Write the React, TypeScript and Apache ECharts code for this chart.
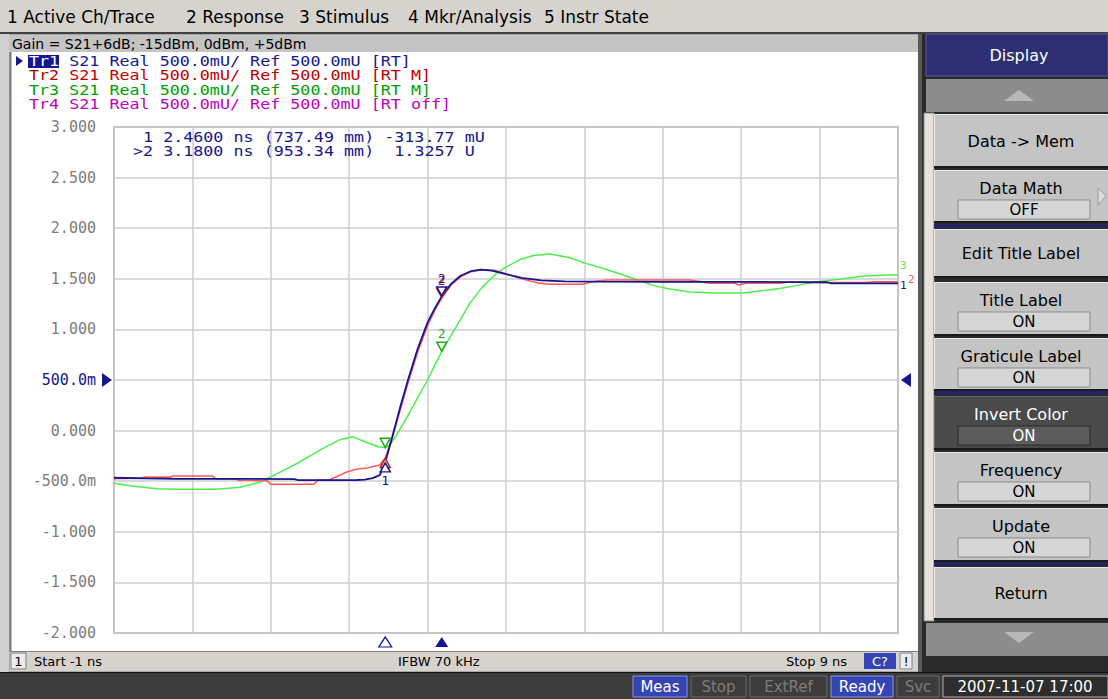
import React, { useEffect, useRef } from "react";
import * as echarts from "echarts";

// ---------- data ----------
const menuItems = ["1 Active Ch/Trace", "2 Response", "3 Stimulus", "4 Mkr/Analysis", "5 Instr State"];
const channelTitle = "Gain = S21+6dB; -15dBm, 0dBm, +5dBm";
const traceHeaders = [
  "Tr1 S21 Real 500.0mU/ Ref 500.0mU [RT]",
  "Tr2 S21 Real 500.0mU/ Ref 500.0mU [RT M]",
  "Tr3 S21 Real 500.0mU/ Ref 500.0mU [RT M]",
  "Tr4 S21 Real 500.0mU/ Ref 500.0mU [RT off]",
];
const markerReadout = [" 1 2.4600 ns (737.49 mm) -313.77 mU", ">2 3.1800 ns (953.34 mm)  1.3257 U"];
const yTickValues = [3, 2.5, 2, 1.5, 1, 0.5, 0, -0.5, -1, -1.5, -2];
const yTickLabels = ["3.000", "2.500", "2.000", "1.500", "1.000", "500.0m", "0.000", "-500.0m", "-1.000", "-1.500", "-2.000"];
const startNs = -1;
const stopNs = 9;
const refLevel = 0.5;
const markerTimes = [2.46, 3.18];

// Tr1 (blue) S21 real, [ns, U]
const tr1Points = [
  [-1.0, -0.466], [-0.6, -0.472], [-0.2, -0.477], [0.3, -0.478], [0.8, -0.478], [1.3, -0.48],
  [1.35, -0.49], [1.8, -0.49], [2.1, -0.488], [2.2, -0.485], [2.3, -0.47], [2.39, -0.44],
  [2.46, -0.31377], [2.55, -0.06], [2.65, 0.23], [2.75, 0.5], [2.87, 0.8], [3.0, 1.07],
  [3.1, 1.22], [3.18, 1.3257], [3.3, 1.45], [3.42, 1.53], [3.55, 1.575], [3.68, 1.59],
  [3.82, 1.58], [4.0, 1.545], [4.2, 1.51], [4.45, 1.485], [4.75, 1.475], [5.2, 1.472],
  [6.0, 1.47], [6.8, 1.47], [7.6, 1.468], [8.1, 1.466], [8.15, 1.455], [9.0, 1.455],
];
// Tr2 (red)
const tr2Points = [
  [-1.0, -0.475], [-0.67, -0.47], [-0.6, -0.46], [-0.28, -0.46], [-0.25, -0.448], [0.25, -0.448],
  [0.3, -0.475], [0.55, -0.48], [0.6, -0.49], [0.95, -0.495], [1.0, -0.53], [1.55, -0.53],
  [1.6, -0.49], [1.75, -0.485], [1.97, -0.41], [2.1, -0.38], [2.23, -0.37], [2.39, -0.34],
  [2.46, -0.27], [2.55, -0.07], [2.65, 0.2], [2.75, 0.47], [2.87, 0.77], [3.0, 1.04],
  [3.1, 1.2], [3.18, 1.31], [3.3, 1.44], [3.42, 1.52], [3.55, 1.57], [3.7, 1.59],
  [3.85, 1.585], [4.0, 1.55], [4.2, 1.5], [4.4, 1.46], [4.56, 1.446], [4.98, 1.446],
  [5.1, 1.47], [5.29, 1.488], [6.35, 1.488], [6.5, 1.47], [6.58, 1.456], [6.92, 1.456],
  [6.97, 1.44], [7.05, 1.456], [7.49, 1.456], [7.6, 1.468], [8.1, 1.462], [8.6, 1.462],
  [8.7, 1.47], [9.0, 1.47],
];
// Tr3 (green)
const tr3Points = [
  [-1.0, -0.52], [-0.75, -0.55], [-0.45, -0.575], [-0.2, -0.58], [0.3, -0.58], [0.61, -0.56],
  [0.86, -0.51], [1.12, -0.41], [1.37, -0.31], [1.63, -0.19], [1.88, -0.09], [2.04, -0.06],
  [2.2, -0.11], [2.37, -0.16], [2.46, -0.17], [2.52, -0.14], [2.6, -0.05], [2.74, 0.135],
  [2.87, 0.32], [3.0, 0.5], [3.1, 0.66], [3.18, 0.78], [3.3, 0.94], [3.42, 1.1],
  [3.54, 1.26], [3.7, 1.42], [3.89, 1.56], [4.01, 1.62], [4.18, 1.69], [4.35, 1.73],
  [4.56, 1.745], [4.8, 1.71], [5.03, 1.65], [5.25, 1.6], [5.45, 1.55], [5.67, 1.49],
  [5.9, 1.43], [6.09, 1.4], [6.35, 1.37], [6.64, 1.36], [7.02, 1.36], [7.3, 1.385],
  [7.53, 1.41], [7.75, 1.44], [7.97, 1.47], [8.3, 1.5], [8.6, 1.53], [9.0, 1.54],
];
const tr1Markers = [-0.31377, 1.3257];
const tr2Markers = [-0.27, 1.31];
const tr3Markers = [-0.17, 0.78];

const softkeys = [
  { label: "Data -> Mem", state: "" },
  { label: "Data Math", state: "OFF" },
  { label: "Edit Title Label", state: "" },
  { label: "Title Label", state: "ON" },
  { label: "Graticule Label", state: "ON" },
  { label: "Invert Color", state: "ON" },
  { label: "Frequency", state: "ON" },
  { label: "Update", state: "ON" },
  { label: "Return", state: "" },
];
const statusLeft = "Start -1 ns";
const statusMid = "IFBW 70 kHz";
const statusRight = "Stop 9 ns";
const bottomItems = ["Meas", "Stop", "ExtRef", "Ready", "Svc"];
const dateText = "2007-11-07 17:00";

// ---------- styles ----------
const NAVY = "#16168f";
const RED = "#ff5a5a";
const GREEN = "#4cef4c";
const SANS = '"DejaVu Sans", Verdana, sans-serif';
const MONO = '"DejaVu Sans Mono", monospace';
const CW = 10.05;
const SX = CW / (0.602 * 14);

const TRI_DOWN = "path://M0,0L10,0L5,10Z";
const TRI_UP = "path://M5,0L10,10L0,10Z";
const TRI_RIGHT = "path://M0,0L10,5L0,10Z";
const TRI_LEFT = "path://M10,0L0,5L10,10Z";

function buildGraphics() {
  const els: any[] = [];
  const rect = (x: number, y: number, w: number, h: number, fill: string, stroke?: string, lw = 1, z = -20) =>
    els.push({ type: "rect", z, silent: true, shape: { x, y, width: w, height: h }, style: { fill, stroke: stroke || null, lineWidth: lw } });
  const line = (x1: number, y1: number, x2: number, y2: number, stroke: string, lw = 1, z = -15) =>
    els.push({ type: "line", z, silent: true, shape: { x1, y1, x2, y2 }, style: { stroke, lineWidth: lw } });
  const poly = (pts: number[][], fill: string, stroke?: string, z = -10) =>
    els.push({ type: "polygon", z, silent: true, shape: { points: pts }, style: { fill, stroke: stroke || null, lineWidth: 1 } });
  const text = (x: number, y: number, str: string, fill: string, size: number, align = "left", family = SANS) =>
    els.push({
      type: "text", z: 30, silent: true, x, y,
      style: { text: str, fill, fontSize: size, fontFamily: family, textAlign: align, align, textVerticalAlign: "middle", verticalAlign: "middle" },
    });
  const mono = (x: number, y: number, str: string, fill: string) => {
    const re = /\S+/g;
    let m: RegExpExecArray | null;
    while ((m = re.exec(str))) {
      els.push({
        type: "text", z: 30, silent: true, x: x + m.index * CW, y, scaleX: SX,
        style: { text: m[0], fill, fontSize: 14, fontFamily: MONO, textAlign: "left", align: "left", textVerticalAlign: "middle", verticalAlign: "middle" },
      });
    }
  };

  // menu bar
  rect(0, 0, 1108, 32, "#d6d3ce");
  const menuX = [7, 186, 299, 408, 544];
  menuItems.forEach((s, i) => text(menuX[i], 17, s, "#000", 17));
  rect(0, 32, 1108, 2, "#404040");

  // channel window
  rect(0, 34, 924, 638, "#a8a8a8");
  rect(0, 34, 9, 638, "#d0d0d0");
  rect(9, 35, 911, 17, "#c4c4c4");
  text(12, 44, channelTitle, "#000", 14);
  rect(11, 52, 907, 599, "#ffffff");
  line(10.5, 52, 10.5, 651, "#7a7a7a", 2);
  rect(918, 34, 6, 638, "#5a5a5a");

  // trace headers
  poly([[16, 56], [23, 61], [16, 66]], NAVY, undefined, 20);
  const hdrColors = [NAVY, "#c00000", "#00a000", "#c000c0"];
  traceHeaders.forEach((s, i) => mono(29, 61 + i * 14.5, s, hdrColors[i]));
  rect(28, 55, 31, 13, NAVY, undefined, 1, 25);
  els.push({
    type: "text", z: 31, silent: true, x: 29, y: 61, scaleX: SX,
    style: { text: "Tr1", fill: "#fff", fontSize: 14, fontFamily: MONO, textAlign: "left", align: "left", textVerticalAlign: "middle", verticalAlign: "middle" },
  });

  // marker readout
  markerReadout.forEach((s, i) => mono(133, 137 + i * 14, s, NAVY));

  // channel status bar
  rect(10, 651, 908, 20, "#d6d3ce");
  line(10, 651.5, 918, 651.5, "#808080", 1);
  rect(11, 653, 15, 16, "#ececec", "#808080");
  text(18.5, 661, "1", "#000", 13, "center");
  text(34, 661, statusLeft, "#000", 13);
  text(398, 661, statusMid, "#000", 13);
  text(786, 661, statusRight, "#000", 13);
  rect(864, 653, 32, 16, "#3545b5");
  text(880, 661, "C?", "#fff", 13, "center");
  rect(900, 653, 12, 16, "#ececec", "#808080");
  text(906, 661, "!", "#000", 13, "center");

  // bottom bar
  rect(0, 672, 1108, 27, "#3c3c3c");
  line(0, 672.5, 1108, 672.5, "#111", 1);
  const bx = [633, 691, 750, 831, 897];
  const bw = [54, 55, 77, 62, 42];
  bottomItems.forEach((s, i) => {
    const active = s === "Meas" || s === "Ready";
    rect(bx[i], 676, bw[i], 21, active ? "#3444b4" : "#3c3c3c", active ? "#8898e0" : "#6a6a6a");
    text(bx[i] + bw[i] / 2, 687, s, active ? "#fff" : "#7c7c7c", 15, "center");
  });
  rect(943, 676, 165, 21, "#2e2e2e", "#b0b0b0");
  text(1025, 687, dateText, "#fff", 15, "center");

  // softkey panel
  rect(922, 34, 186, 638, "#2a2a2a");
  rect(926, 34, 182, 42, "#2e2e72", "#5a5aa0");
  text(1019, 55, "Display", "#fff", 16, "center");
  rect(926, 79, 182, 33, "#8c8c8c");
  poly([[1004, 101], [1034, 101], [1019, 90]], "#b8b8b8");
  rect(924, 113, 10, 508, "#e6e2da", "#888");
  rect(926, 623, 182, 33, "#8c8c8c");
  poly([[1004, 632], [1034, 632], [1019, 643]], "#b8b8b8");

  const tops = [114, 170, 229, 282, 338, 396, 452, 508, 567];
  const hts = [54, 53, 49, 54, 53, 54, 54, 54, 53];
  softkeys.forEach((k, i) => {
    const y = tops[i];
    const h = hts[i];
    const dark = k.label === "Invert Color";
    rect(934, y, 174, h, dark ? "#4a4a4a" : "#c4c4c4");
    line(934, y + 0.5, 1108, y + 0.5, dark ? "#6a6a6a" : "#e8e8e8", 1, -14);
    line(934.5, y, 934.5, y + h, dark ? "#6a6a6a" : "#e8e8e8", 1, -14);
    line(934, y + h - 1, 1108, y + h - 1, "#1a1a1a", 2, -14);
    if (k.state) {
      text(1021, y + 18, k.label, dark ? "#fff" : "#000", 16, "center");
      rect(958, y + 30, 132, 19, dark ? "#5c5c5c" : "#d6d6d6", dark ? "#2a2a2a" : "#8a8a8a");
      text(1024, y + 40, k.state, dark ? "#fff" : "#000", 15, "center");
    } else {
      text(1021, y + h / 2, k.label, "#000", 16, "center");
    }
  });
  poly([[1098, 188], [1098, 205], [1106, 196]], "#dcdcdc", "#9a9a9a", -5);
  rect(934, 224, 174, 4, "#24245e", undefined, 1, -12);
  rect(934, 391, 174, 4, "#24245e", undefined, 1, -12);
  rect(934, 562, 174, 4, "#24245e", undefined, 1, -12);

  return els;
}

function markerItem(t: number, v: number, color: string, label: string, below: boolean, filled = false) {
  return {
    coord: [t, v],
    symbol: below ? TRI_UP : TRI_DOWN,
    symbolSize: [10, 9],
    symbolOffset: [0, below ? 5 : -5],
    itemStyle: { color: filled ? color : "#ffffff", borderColor: color, borderWidth: 1.5 },
    label: {
      show: label !== "",
      formatter: label,
      position: below ? "bottom" : "top",
      distance: 1,
      color,
      fontSize: 13,
      fontFamily: MONO,
    },
  };
}

function buildOption() {
  const lineSeries = (name: string, pts: number[][], color: string, width: number, end: string, endOffset: number[], marks: any[]) => ({
    name,
    type: "line",
    data: pts,
    showSymbol: false,
    symbol: "none",
    smooth: false,
    lineStyle: { color, width },
    itemStyle: { color },
    endLabel: { show: true, formatter: end, color, fontSize: 11, fontFamily: MONO, distance: 2, offset: endOffset },
    markPoint: { silent: true, data: marks },
    z: 3,
  });

  return {
    animation: false,
    backgroundColor: "#d6d3ce",
    graphic: { elements: buildGraphics() },
    grid: { left: 114, top: 127, width: 784, height: 506, show: true, borderColor: "#8a8a8a", borderWidth: 1.5, backgroundColor: "transparent" },
    xAxis: {
      type: "value", min: startNs, max: stopNs, interval: 1,
      axisLabel: { show: false }, axisTick: { show: false }, axisLine: { show: false },
      splitLine: { show: true, lineStyle: { color: "#cecece", width: 1.5 } },
    },
    yAxis: {
      type: "value", min: -2, max: 3, interval: 0.5,
      axisTick: { show: false }, axisLine: { show: false },
      splitLine: { show: true, lineStyle: { color: "#cecece", width: 1.5 } },
      axisLabel: {
        margin: 18, fontSize: 15, fontFamily: MONO,
        formatter: (v: any) => {
          const i = yTickValues.findIndex((t) => Math.abs(t - Number(v)) < 1e-9);
          return i >= 0 ? yTickLabels[i] : "";
        },
        color: (v: any) => (Math.abs(Number(v) - refLevel) < 1e-9 ? NAVY : "#7c7c7c"),
      },
    },
    series: [
      lineSeries("Tr3", tr3Points, GREEN, 1.5, "3", [0, -9], [
        markerItem(markerTimes[0], tr3Markers[0], "#22aa22", "", false),
        markerItem(markerTimes[1], tr3Markers[1], "#22aa22", "2", false),
      ]),
      lineSeries("Tr2", tr2Points, RED, 1.6, "2", [8, -2], [
        markerItem(markerTimes[0], tr2Markers[0], "#c02020", "", true),
        markerItem(markerTimes[1], tr2Markers[1], "#c02020", "2", false),
      ]),
      lineSeries("Tr1", tr1Points, NAVY, 1.8, "1", [0, 2], [
        markerItem(markerTimes[0], tr1Markers[0], NAVY, "1", true),
        markerItem(markerTimes[1], tr1Markers[1], NAVY, "2", false),
        {
          coord: [markerTimes[0], -2], symbol: TRI_UP, symbolSize: [13, 10], symbolOffset: [0, 9],
          itemStyle: { color: "#fff", borderColor: NAVY, borderWidth: 1.2 }, label: { show: false },
        },
        {
          coord: [markerTimes[1], -2], symbol: TRI_UP, symbolSize: [13, 10], symbolOffset: [0, 9],
          itemStyle: { color: NAVY }, label: { show: false },
        },
        {
          coord: [startNs, refLevel], symbol: TRI_RIGHT, symbolSize: [10, 14], symbolOffset: [-7, 0],
          itemStyle: { color: NAVY }, label: { show: false },
        },
        {
          coord: [stopNs, refLevel], symbol: TRI_LEFT, symbolSize: [10, 14], symbolOffset: [8, 0],
          itemStyle: { color: NAVY }, label: { show: false },
        },
      ]),
    ],
  };
}

export default function App() {
  const ref = useRef<HTMLDivElement>(null);
  useEffect(() => {
    const chart = echarts.init(ref.current!, null, { renderer: "svg" });
    chart.setOption(buildOption() as any);
    return () => chart.dispose();
  }, []);
  return <div ref={ref} style={{ position: "absolute", left: 0, top: 0, width: 1108, height: 699 }} />;
}
